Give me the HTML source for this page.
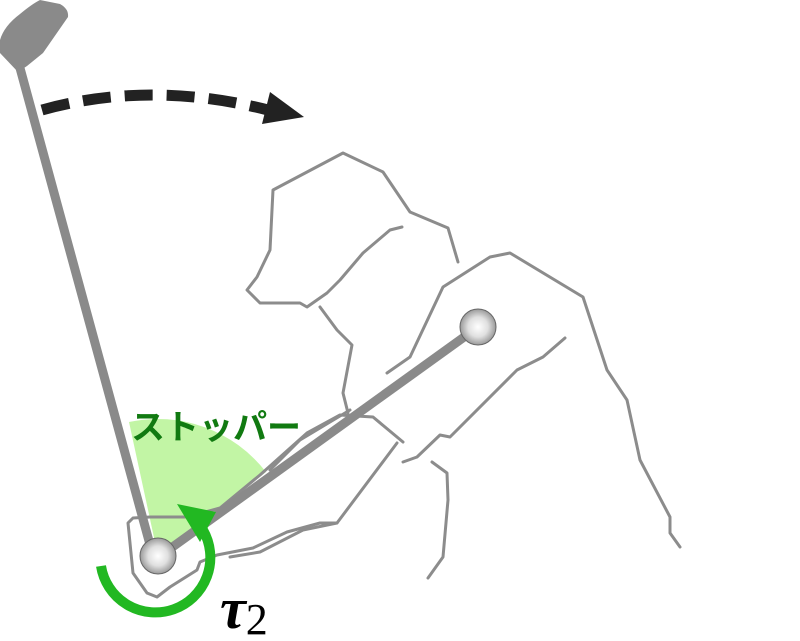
<!DOCTYPE html>
<html><head><meta charset="utf-8"><style>
html,body{margin:0;padding:0;background:#fff;}
svg{display:block;}
</style></head><body>
<svg width="800" height="641" viewBox="0 0 800 641" xmlns="http://www.w3.org/2000/svg">
<defs>
<radialGradient id="b" cx="0.5" cy="0.5" r="0.55">
<stop offset="0" stop-color="#fff"/><stop offset="0.5" stop-color="#e0e0e0"/><stop offset="1" stop-color="#8a8a8a"/>
</radialGradient>
</defs>
<!-- green wedge -->
<path d="M158,556 L129,422 A137,137 0 0 1 266,472 Z" fill="#c2f5a5"/>
<!-- body outlines -->
<g fill="none" stroke="#8c8c8c" stroke-width="3" stroke-linejoin="round" stroke-linecap="round">
<path d="M458,262 L448,228 L410,212 L383,172 L343,153 L273,190 L270,250 L257,277 L247,290 L260,303 L300,303 L307,307 L327,293 L340,280 L363,253 L390,230 L402,227"/>
<path d="M320,307 L337,330 L352,345 L343,393 L348,413"/>
<path d="M387,373 L410,357 L443,287 L490,257 L510,253 L583,297 L607,370 L627,400 L640,460 L670,517 L670,533 L680,547"/>
<path d="M565,338 L543,357 L517,370 L450,437 L440,435 L417,457 L403,462"/>
<path d="M432,462 L447,473 L448,500 L443,557 L428,578"/>
<path d="M403,442 L373,417 L340,415 L307,433 L260,475 L220,508 L187,517 L150,517 L133,518 L128,523 L133,573 L147,593 L157,597 L170,587 L197,570 L200,562 L217,555 L253,548 L287,532 L320,523 L337,523 L397,443"/>
<path d="M230,557 L260,552 L303,530 L337,523"/>
<path d="M350,410 L300,440 L270,470"/>
</g>
<!-- club -->
<path d="M0,53 L0,40 Q4,26 20,14 Q32,4 40,0 L60,4 Q69,9 68,17 L43,53 L27,66 L18,72 Z" fill="#8a8a8a"/>
<line x1="20" y1="68" x2="152" y2="552" stroke="#8a8a8a" stroke-width="9" stroke-linecap="round"/>
<!-- arm rod -->
<line x1="160" y1="556" x2="478" y2="327" stroke="#8a8a8a" stroke-width="9"/>
<circle cx="158" cy="556" r="18" fill="url(#b)" stroke="#666" stroke-width="1"/>
<circle cx="478" cy="327" r="18" fill="url(#b)" stroke="#666" stroke-width="1"/>
<!-- green torque arrow -->
<path d="M101,566 A55,55 0 1 0 203,530" fill="none" stroke="#22b822" stroke-width="10"/>
<polygon points="177,504 216,512 200,542" fill="#22b822"/>
<!-- dashed arrow -->
<path d="M42,110 Q150,80 268,110" fill="none" stroke="#222" stroke-width="11" stroke-dasharray="28,14"/>
<polygon points="304,117 270,92 262,124" fill="#222"/>
<text x="131" y="439" font-family="'Liberation Sans','Noto Sans CJK JP',sans-serif" font-weight="bold" font-size="34" fill="#117a11">ストッパー</text>
<text x="220" y="628" font-family="'Liberation Serif',serif" font-style="italic" font-weight="bold" font-size="58" fill="#000">τ<tspan font-style="normal" font-weight="normal" font-size="44" dy="6">2</tspan></text>
</svg>
</body></html>
